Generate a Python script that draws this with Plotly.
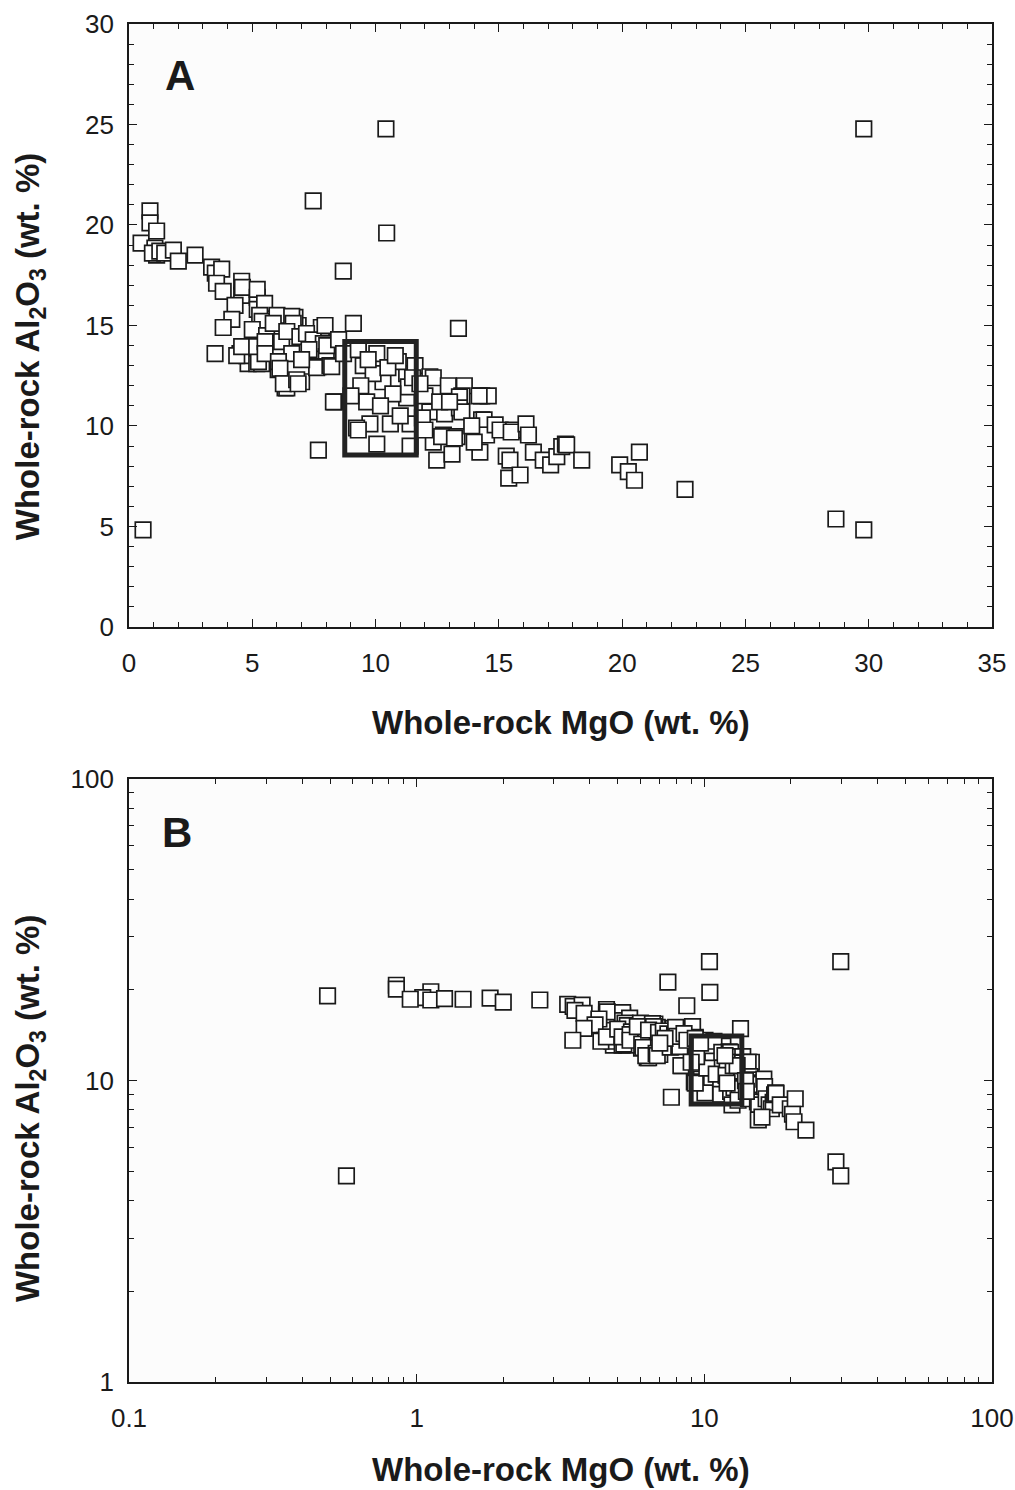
import plotly.graph_objects as go

# Whole-rock MgO (wt. %) and Al2O3 (wt. %)
mgo = [
    0.49, 0.57, 0.85, 0.85, 1.12, 1.05, 1.12, 0.95, 1.25, 1.45, 1.8, 2.0, 2.68,
    3.35, 3.5, 3.76, 3.55, 3.82, 4.57, 4.57, 4.6, 5.2, 5.2, 4.3, 4.17, 3.82, 3.49,
    4.5, 4.83, 4.83, 4.77, 4.77, 4.37, 4.57, 5.2, 5.5, 5.3, 5.4, 5.0,
    5.58, 6.19, 6.05, 6.86, 6.73, 6.19, 6.0, 6.6, 6.6, 7.0, 6.33, 6.4, 7.6, 7.8,
    5.18, 5.38, 5.25, 5.18, 5.52, 5.52, 6.06, 6.12, 6.26, 6.8, 6.86, 5.85, 6.66,
    6.4, 6.93, 7.2, 7.47, 7.88, 8.0, 7.67, 7.61, 8.15, 8.22, 8.35, 8.29, 7.95,
    8.02, 9.1, 9.3, 8.5, 8.7, 7.3, 7.0,
    7.47, 10.45, 8.69, 7.68, 10.42, 29.8, 28.67, 29.8, 13.36,
    9.5, 10.05, 10.3, 11.26, 9.64, 11.26, 9.77, 10.6, 10.05, 11.4, 9.23, 11.4,
    9.3, 10.92, 11.33, 9.3, 9.9, 10.5, 10.7, 10.2, 9.4, 11.0, 9.0, 11.6, 10.8,
    9.7, 11.5,
    12.2, 12.34, 12.95, 13.6, 13.5, 13.4, 12.2, 12.8, 13.4, 13.5, 14.3, 14.57,
    14.2, 12.34, 12.75, 12.68, 13.3, 13.2, 14.3, 14.4, 14.5, 14.85, 12.48, 13.1,
    14.23, 15.05, 15.6, 15.5, 15.3, 15.45, 16.1, 16.2, 16.4, 16.8, 17.1, 17.35,
    17.55, 17.7, 17.75, 18.36, 15.4, 15.86, 19.9, 20.7, 20.25, 20.5, 22.55,
    12.0, 11.9, 12.6, 13.0, 12.0, 13.9, 14.0, 11.8,
]
al2o3 = [
    19.1, 4.83, 20.7, 20.1, 19.7, 18.85, 18.5, 18.6, 18.7, 18.6, 18.75, 18.2, 18.5,
    17.9, 17.6, 17.8, 17.1, 16.7, 17.2, 16.5, 16.9, 16.4, 16.8, 16.0, 15.3, 14.9, 13.6,
    13.6, 13.7, 13.1, 13.8, 13.5, 13.5, 13.95, 15.8, 16.1, 15.5, 15.2, 14.8,
    14.5, 14.2, 12.8, 15.0, 15.4, 15.4, 15.5, 15.45, 13.6, 12.2, 11.9, 11.9, 14.2, 14.9,
    13.1, 13.1, 13.2, 13.95, 14.2, 13.6, 13.2, 12.87, 12.1, 12.3, 12.1, 15.1, 15.1,
    14.7, 14.45, 14.6, 14.28, 14.1, 13.45, 12.95, 12.9, 13.0, 12.95, 11.2, 11.2, 15.0,
    14.0, 15.1, 13.9, 14.3, 13.6, 13.8, 13.3,
    21.2, 19.6, 17.7, 8.8, 24.78, 24.78, 5.37, 4.83, 14.86,
    13.0, 13.6, 12.2, 12.6, 11.2, 11.4, 10.1, 10.1, 9.1, 10.1, 9.9, 9.0,
    13.8, 13.2, 11.95, 9.8, 12.6, 12.9, 11.6, 11.0, 12.0, 10.5, 11.5, 13.0, 13.5,
    13.3, 12.4,
    12.45, 12.4, 12.0, 12.0, 11.5, 11.45, 10.7, 10.6, 10.9, 10.7, 11.5, 11.5,
    11.5, 9.2, 9.55, 9.47, 9.47, 9.4, 10.3, 10.3, 9.55, 10.05, 8.3, 8.6,
    8.7, 9.8, 9.8, 9.7, 8.5, 8.3, 10.1, 9.55, 8.7, 8.3, 8.06, 8.47,
    8.97, 9.1, 9.06, 8.3, 7.4, 7.56, 8.06, 8.7, 7.73, 7.3, 6.85,
    11.5, 10.4, 11.2, 11.2, 9.8, 10.0, 9.2, 12.1,
]

# Highlighted box in each panel: [x0, x1, y0, y1]
box_a = [8.75, 11.65, 8.55, 14.2]
box_b = [9.0, 13.5, 8.36, 14.05]

x_ticks_a = [0, 5, 10, 15, 20, 25, 30, 35]
y_ticks_a = [0, 5, 10, 15, 20, 25, 30]
x_ticks_b = [0.1, 1, 10, 100]
x_ticklabels_b = ["0.1", "1", "10", "100"]
y_ticks_b = [1, 10, 100]
y_ticklabels_b = ["1", "10", "100"]
log_minor_x = [m * d for d in (0.1, 1, 10) for m in range(2, 10)]
log_minor_y = [m * d for d in (1, 10) for m in range(2, 10)]

FONT = "Liberation Sans, Arial, sans-serif"
INK = "#1a1a1a"
marker = dict(symbol="square", size=15.5, color="white",
              line=dict(color=INK, width=1.7))

fig = go.Figure()
fig.add_trace(go.Scatter(x=mgo, y=al2o3, mode="markers", marker=marker,
                         xaxis="x", yaxis="y", showlegend=False, cliponaxis=True))
fig.add_trace(go.Scatter(x=mgo, y=al2o3, mode="markers", marker=marker,
                         xaxis="x2", yaxis="y2", showlegend=False, cliponaxis=True))

axis_common = dict(showgrid=False, zeroline=False, showline=True, linecolor=INK,
                   linewidth=1.6, mirror="ticks", ticks="inside", ticklen=8,
                   tickwidth=1.4, tickcolor=INK, automargin=False,
                   tickfont=dict(family=FONT, size=26, color=INK))

fig.update_layout(
    width=1015, height=1490, autosize=False,
    margin=dict(l=129, r=23, t=24, b=108, pad=0, autoexpand=False),
    paper_bgcolor="white", plot_bgcolor="#fcfcfc",
    xaxis=dict(**axis_common, domain=[0, 1], range=[0, 35], anchor="y",
               tickvals=x_ticks_a, ticklabelstandoff=12,
               minor=dict(ticks="inside", ticklen=5, tickwidth=1.2,
                          tickcolor=INK, dtick=1)),
    yaxis=dict(**axis_common, domain=[0.556, 1], range=[0, 30], anchor="x",
               tickvals=y_ticks_a, ticklabelstandoff=8,
               minor=dict(ticks="inside", ticklen=5, tickwidth=1.2,
                          tickcolor=INK, dtick=1)),
    xaxis2=dict(**axis_common, domain=[0, 1], type="log", range=[-1, 2],
                anchor="y2", tickvals=x_ticks_b, ticktext=x_ticklabels_b,
                ticklabelstandoff=12,
                minor=dict(ticks="inside", ticklen=5, tickwidth=1.2,
                           tickcolor=INK, tickvals=log_minor_x)),
    yaxis2=dict(**axis_common, domain=[0, 0.444], type="log", range=[0, 2],
                anchor="x2", tickvals=y_ticks_b, ticktext=y_ticklabels_b,
                ticklabelstandoff=8,
                minor=dict(ticks="inside", ticklen=5, tickwidth=1.2,
                           tickcolor=INK, tickvals=log_minor_y)),
)

for (xr, yr, b) in (("x", "y", box_a), ("x2", "y2", box_b)):
    fig.add_shape(type="rect", xref=xr, yref=yr, x0=b[0], x1=b[1], y0=b[2], y1=b[3],
                  line=dict(color="#222222", width=5), fillcolor="rgba(0,0,0,0)",
                  layer="above")

title_font = dict(family=FONT, size=33, color=INK)
ytitle = "<b>Whole-rock Al<sub>2</sub>O<sub>3</sub> (wt. %)</b>"
xtitle = "<b>Whole-rock MgO (wt. %)</b>"
anns = [
    dict(text=xtitle, x=0.5006, y=0.4853),
    dict(text=xtitle, x=0.5006, y=-0.0648),
    dict(text=ytitle, x=-0.1147, y=0.762, textangle=-90),
    dict(text=ytitle, x=-0.1147, y=0.201, textangle=-90),
]
for a in anns:
    fig.add_annotation(xref="paper", yref="paper", showarrow=False,
                       xanchor="center", yanchor="middle", font=title_font, **a)

fig.add_annotation(text="<b>A</b>", xref="x domain", yref="y domain", x=0.059, y=0.9154,
                   showarrow=False, xanchor="center", yanchor="middle",
                   font=dict(family=FONT, size=42, color=INK))
fig.add_annotation(text="<b>B</b>", xref="x2 domain", yref="y2 domain", x=0.0556, y=0.912,
                   showarrow=False, xanchor="center", yanchor="middle",
                   font=dict(family=FONT, size=42, color=INK))

fig.write_html("out.html")
